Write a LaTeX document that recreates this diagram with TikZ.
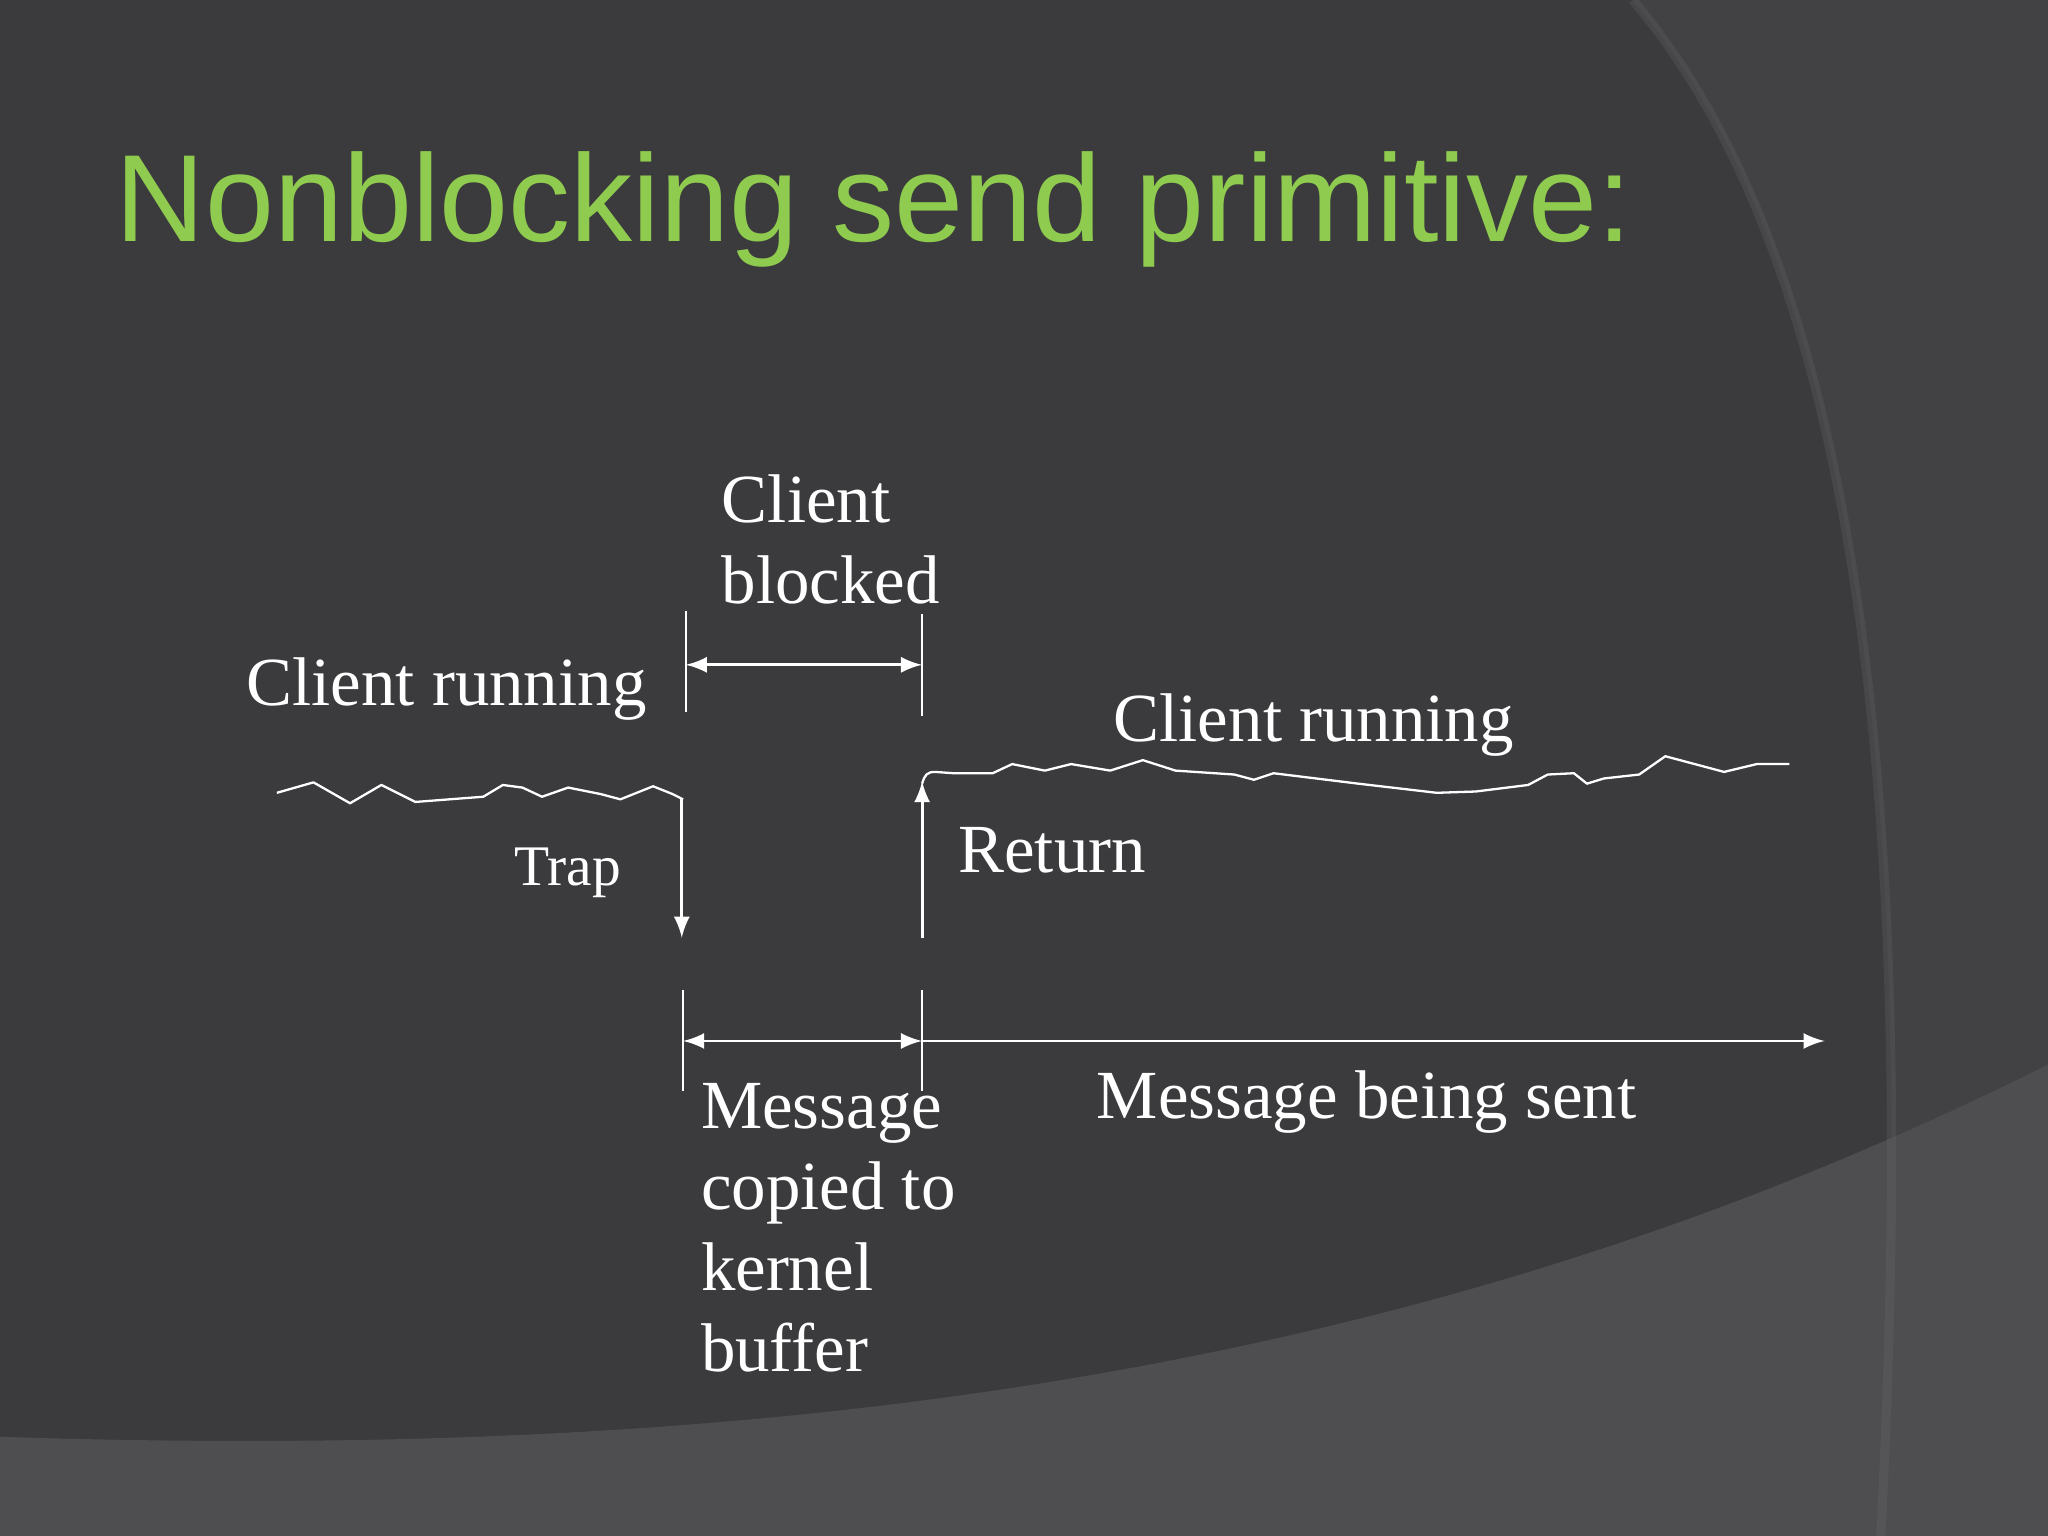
\documentclass[tikz,border=0pt]{standalone}
\usepackage{fontspec}
\setmainfont{Liberation Serif}
\newfontfamily\titlefont{Liberation Sans}
\begin{document}
\begin{tikzpicture}[x=0.01cm,y=-0.01cm,
  lbl/.style={text=white,font=\fontsize{15}{17.6}\selectfont,anchor=base west,inner sep=0pt},
  ln/.style={white,line width=0.5pt},
  arr/.style={white,line width=0.6pt,-latex},
  darr/.style={white,line width=0.6pt,latex-latex}]
\definecolor{bg}{HTML}{3B3A3D}
\definecolor{bg2}{HTML}{424144}
\definecolor{bg3}{HTML}{4E4D50}
\definecolor{tgreen}{HTML}{8FCB4F}
\fill[bg] (0,0) rectangle (1568,1176);
\useasboundingbox (0,0) rectangle (1568,1176);
\fill[bg2] (1250,0) .. controls (1420,200) and (1470,600) .. (1440,1176) -- (1568,1176) -- (1568,0) -- cycle;
\fill[bg3] (0,1100) .. controls (600,1120) and (1100,1050) .. (1568,815) -- (1568,1176) -- (0,1176) -- cycle;
\draw[black!60,line width=2pt,opacity=0.3] (1250,0) .. controls (1420,200) and (1470,600) .. (1440,1176);
% title
\node[text=tgreen,font=\titlefont\fontsize{27}{32}\selectfont,anchor=base west,inner sep=0pt] (title) at (88,185) {Nonblocking send primitive:};
% labels
\node[lbl,align=left] (cb) at (552,462) {Client\\blocked};
\node[lbl] (cr1) at (188,540) {Client running};
\node[lbl] (cr2) at (852,568) {Client running};
\node[lbl,font=\fontsize{12.5}{15}\selectfont,anchor=base east] (trap) at (476,678) {Trap};
\node[lbl] (ret) at (733,668) {Return};
\node[lbl,align=left] (mc) at (536,1050) {Message\\copied to\\kernel\\buffer};
\node[lbl] (mbs) at (839,856) {Message being sent};
% coordinates
\coordinate (t1a) at (525,468); \coordinate (t1b) at (525,545);
\coordinate (t2a) at (706,470); \coordinate (t2b) at (706,548);
\coordinate (b1l) at (525,509); \coordinate (b1r) at (706,509);
\coordinate (t3a) at (523,758); \coordinate (t3b) at (523,835);
\coordinate (t4a) at (706,758); \coordinate (t4b) at (706,835);
\coordinate (b2l) at (523,797); \coordinate (b2m) at (706,797); \coordinate (b2r) at (1397,797);
\coordinate (trs) at (522,612); \coordinate (tre) at (522,718);
\coordinate (rts) at (706,718); \coordinate (rte) at (706,598);
\draw[ln] (t1a)--(t1b); \draw[ln] (t2a)--(t2b);
\draw[ln] (t3a)--(t3b); \draw[ln] (t4a)--(t4b);
\draw[darr] (b1l)--(b1r);
\draw[darr] (b2l)--(b2m);
\draw[arr] (b2m)--(b2r);
\draw[arr] (trs)--(tre);
\draw[arr] (rts)--(rte);
% wavy lines
\draw[ln,line join=round] (212,607)--(240,599)--(268,615)--(292,601)--(318,614)--(370,610)--(385,601)--(400,603)--(415,610)--(435,603)--(460,608)--(475,612)--(500,602)--(515,608)--(523,612);
\draw[ln,line join=round] (706,600) .. controls (708,593) and (710,591) .. (716,591)--(730,592)--(760,592)--(775,585)--(800,590)--(820,585)--(850,590)--(875,582)--(900,590)--(945,593)--(960,597)--(975,592)--(1040,600)--(1100,607)--(1130,606)--(1170,601)--(1185,593)--(1205,592)--(1215,600)--(1228,596)--(1255,593)--(1275,579)--(1320,591)--(1345,585)--(1370,585);
\end{tikzpicture}
\end{document}
